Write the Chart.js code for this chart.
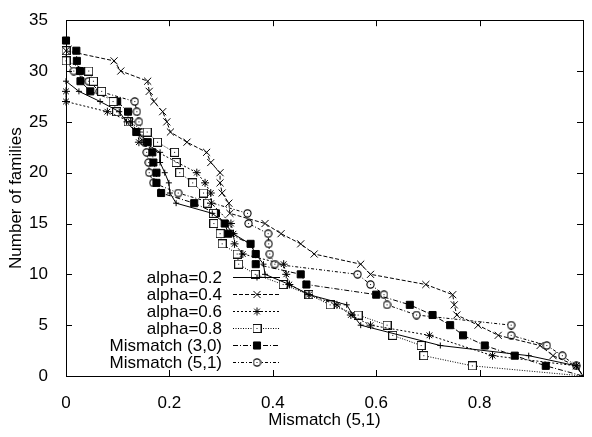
<!DOCTYPE html>
<html>
<head>
<meta charset="utf-8">
<script src="https://cdn.jsdelivr.net/npm/chart.js@4.4.1/dist/chart.umd.min.js"></script>
<style>
  html, body { margin: 0; padding: 0; background: #fff; }
</style>
</head>
<body>
<canvas id="chart" width="592" height="437"></canvas>
<script>
// tick values
const xTicks = [0, 0.2, 0.4, 0.6, 0.8, 1];
const yTicks = [0, 5, 10, 15, 20, 25, 30, 35];

// series (x = mismatch, y = number of families)
const alpha02X = [0, 0.025, 0.066, 0.103, 0.117, 0.135, 0.15, 0.182, 0.182, 0.191, 0.199, 0.201, 0.213, 0.283, 0.308, 0.323, 0.356, 0.367, 0.382, 0.385, 0.432, 0.47, 0.543, 0.555, 0.57, 0.724, 0.895, 0.987, 1];
const alpha02Y = [29, 28, 27, 26, 25, 24, 23, 22, 21, 20, 19, 18, 17, 16, 15, 14, 13, 12, 11, 10, 9, 8, 7, 6, 5, 3, 2, 1, 0];

const alpha04X = [0, 0.093, 0.106, 0.158, 0.161, 0.17, 0.187, 0.195, 0.202, 0.234, 0.272, 0.28, 0.298, 0.298, 0.302, 0.315, 0.317, 0.385, 0.416, 0.454, 0.48, 0.57, 0.589, 0.696, 0.748, 0.751, 0.756, 0.797, 0.836, 0.917, 0.942, 0.987, 1];
const alpha04Y = [32, 31, 30, 29, 28, 27, 26, 25, 24, 23, 22, 21, 20, 19, 18, 17, 16, 15, 14, 13, 12, 11, 10, 9, 8, 7, 6, 5, 4, 3, 2, 1, 0];

const alpha06X = [0, 0, 0.08, 0.125, 0.139, 0.141, 0.253, 0.269, 0.28, 0.281, 0.319, 0.324, 0.326, 0.342, 0.421, 0.426, 0.432, 0.47, 0.524, 0.551, 0.589, 0.703, 0.825, 0.987, 1];
const alpha06Y = [28, 27, 26, 25, 24, 23, 20, 19, 18, 17, 15, 14, 13, 12, 11, 10, 9, 8, 7, 6, 5, 4, 2, 1, 0];

const alpha08X = [0, 0, 0.044, 0.053, 0.069, 0.091, 0.098, 0.12, 0.157, 0.177, 0.21, 0.213, 0.22, 0.245, 0.266, 0.274, 0.285, 0.286, 0.298, 0.302, 0.331, 0.334, 0.366, 0.42, 0.47, 0.511, 0.565, 0.621, 0.632, 0.687, 0.692, 0.786, 1];
const alpha08Y = [32, 31, 30, 29, 28, 27, 26, 25, 24, 23, 22, 21, 20, 19, 18, 17, 16, 15, 14, 13, 12, 11, 10, 9, 8, 7, 6, 5, 4, 3, 2, 1, 0];

const mm30X = [0, 0.02, 0.021, 0.027, 0.028, 0.047, 0.099, 0.12, 0.12, 0.136, 0.158, 0.167, 0.169, 0.175, 0.175, 0.184, 0.248, 0.29, 0.307, 0.314, 0.357, 0.367, 0.367, 0.454, 0.465, 0.6, 0.665, 0.709, 0.743, 0.768, 0.81, 0.868, 0.928, 1];
const mm30Y = [33, 32, 31, 30, 29, 28, 27, 26, 25, 24, 23, 22, 21, 20, 19, 18, 17, 16, 15, 14, 13, 12, 11, 10, 9, 8, 7, 6, 5, 4, 3, 2, 1, 0];

const mm51X = [0, 0, 0.015, 0.044, 0.065, 0.133, 0.137, 0.141, 0.148, 0.152, 0.156, 0.16, 0.161, 0.169, 0.217, 0.351, 0.353, 0.391, 0.392, 0.394, 0.404, 0.564, 0.589, 0.615, 0.621, 0.678, 0.861, 0.861, 0.93, 0.96, 0.987, 1];
const mm51Y = [32, 31, 30, 29, 28, 27, 26, 25, 24, 23, 22, 21, 20, 19, 18, 16, 15, 14, 13, 12, 11, 10, 9, 8, 7, 6, 5, 4, 3, 2, 1, 0];

const FONT = '"Liberation Sans", Arial, Helvetica, sans-serif';

// open square / circle with a centre dot, like gnuplot's point types
function markBox() {
  const c = document.createElement('canvas');
  c.width = 9; c.height = 9;
  const g = c.getContext('2d');
  g.fillStyle = '#fff'; g.fillRect(0, 0, 9, 9);
  g.strokeStyle = '#111'; g.lineWidth = 1;
  g.strokeRect(0.5, 0.5, 8, 8);
  g.fillStyle = '#111'; g.fillRect(4, 4, 1, 1);
  return c;
}
function markCircle() {
  const c = document.createElement('canvas');
  c.width = 9; c.height = 9;
  const g = c.getContext('2d');
  g.fillStyle = '#fff'; g.strokeStyle = '#000'; g.lineWidth = 1.1;
  g.beginPath(); g.arc(4.5, 4.5, 3.6, 0, Math.PI * 2); g.fill(); g.stroke();
  g.fillStyle = '#111'; g.fillRect(4, 4, 1, 1);
  return c;
}

function pts(xs, ys) {
  return xs.map((x, i) => ({x: x, y: ys[i]}));
}

function series(label, xs, ys, dash, style, r, fill) {
  const n = xs.length;
  return {
    label: label,
    data: pts(xs, ys),
    borderColor: '#000',
    borderWidth: 1,
    borderDash: dash,
    pointStyle: style,
    pointRadius: ctx => ctx.dataIndex === n - 1 ? 0 : r,
    pointBorderColor: '#000',
    pointBackgroundColor: fill,
    pointBorderWidth: 1,
    clip: false
  };
}

const datasets = [
  series('alpha=0.2', alpha02X, alpha02Y, [], 'cross', 3, '#000'),
  series('alpha=0.4', alpha04X, alpha04Y, [4, 2], 'crossRot', 5, '#000'),
  series('alpha=0.6', alpha06X, alpha06Y, [2, 2], 'star', 4, '#000'),
  series('alpha=0.8', alpha08X, alpha08Y, [1, 1.5], markBox(), 4, '#fff'),
  series('Mismatch (3,0)', mm30X, mm30Y, [5, 2, 1, 2], 'rect', 5, '#000'),
  series('Mismatch (5,1)', mm51X, mm51Y, [3, 2, 1, 2], markCircle(), 4, '#fff')
];

// gnuplot-like border with inward ticks on all sides
const frame = {
  id: 'frame',
  afterDatasetsDraw(chart) {
    const ctx = chart.ctx;
    const a = chart.chartArea;
    const xs = chart.scales.x, ys = chart.scales.y;
    ctx.save();
    ctx.strokeStyle = '#000';
    ctx.lineWidth = 1;
    ctx.setLineDash([]);
    ctx.strokeRect(Math.round(a.left) + 0.5, Math.round(a.top) + 0.5,
      Math.round(a.right - a.left), Math.round(a.bottom - a.top));
    ctx.beginPath();
    xTicks.forEach(v => {
      const px = Math.round(xs.getPixelForValue(v)) + 0.5;
      ctx.moveTo(px, a.bottom); ctx.lineTo(px, a.bottom - 6);
      ctx.moveTo(px, a.top); ctx.lineTo(px, a.top + 6);
    });
    yTicks.forEach(v => {
      const py = Math.round(ys.getPixelForValue(v)) + 0.5;
      ctx.moveTo(a.left, py); ctx.lineTo(a.left + 6, py);
      ctx.moveTo(a.right, py); ctx.lineTo(a.right - 6, py);
    });
    ctx.stroke();
    ctx.restore();
  }
};

// key in the lower left, text right aligned, sample line + marker
const key = {
  id: 'key',
  afterDatasetsDraw(chart) {
    const ctx = chart.ctx;
    ctx.save();
    ctx.font = '17px ' + FONT;
    ctx.textAlign = 'right';
    ctx.textBaseline = 'middle';
    chart.data.datasets.forEach((ds, i) => {
      const y = Math.round(277 + i * 16.9) + 0.5;
      ctx.fillStyle = '#000';
      ctx.fillText(ds.label, 222, y + 1);
      ctx.strokeStyle = ds.borderColor;
      ctx.lineWidth = ds.borderWidth;
      ctx.setLineDash(ds.borderDash);
      ctx.beginPath();
      ctx.moveTo(233, y); ctx.lineTo(280, y);
      ctx.stroke();
      ctx.setLineDash([]);
      ctx.strokeStyle = ds.pointBorderColor;
      ctx.fillStyle = ds.pointBackgroundColor;
      const r = {'cross': 3, 'crossRot': 5, 'star': 4, 'rect': 5}[ds.pointStyle] || 4;
      Chart.helpers.drawPoint(ctx, {pointStyle: ds.pointStyle, radius: r, borderWidth: 1, rotation: 0}, 257, y);
    });
    ctx.restore();
  }
};

Chart.defaults.font.family = FONT;
Chart.defaults.font.size = 17;
Chart.defaults.color = '#000';

new Chart(document.getElementById('chart'), {
  type: 'line',
  data: { datasets: datasets },
  options: {
    responsive: false,
    animation: false,
    events: [],
    layout: { padding: { top: 13, right: 1, left: 0, bottom: 0 } },
    plugins: {
      legend: { display: false },
      tooltip: { enabled: false }
    },
    scales: {
      x: {
        type: 'linear',
        min: 0,
        max: 1,
        grid: { display: false },
        border: { display: false },
        afterBuildTicks: s => { s.ticks = xTicks.map(v => ({value: v})); },
        ticks: {
          padding: 9,
          maxRotation: 0,
          callback: v => v === 1 ? '' : String(v)
        },
        title: { display: true, text: 'Mismatch (5,1)', font: { size: 17 }, padding: { top: 0, bottom: 6 } },
        afterFit: s => { s.height = 61; }
      },
      y: {
        type: 'linear',
        min: 0,
        max: 35,
        grid: { display: false },
        border: { display: false },
        afterBuildTicks: s => { s.ticks = yTicks.map(v => ({value: v})); },
        ticks: { padding: 10 },
        title: { display: true, text: 'Number of families', font: { size: 17 }, padding: { top: 6, bottom: 0 } },
        afterFit: s => { s.width = 66; }
      }
    }
  },
  plugins: [frame, key]
});
</script>
</body>
</html>
